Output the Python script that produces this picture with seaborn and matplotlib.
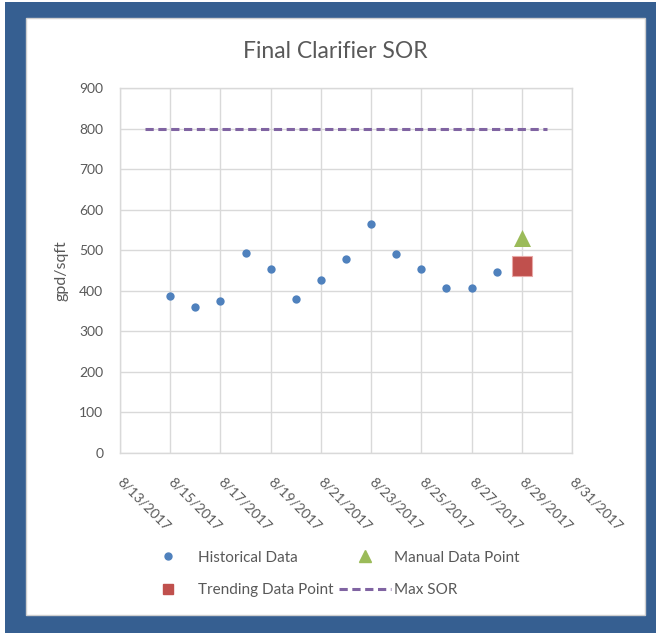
import matplotlib
matplotlib.use("Agg")
import matplotlib.pyplot as plt
import matplotlib.dates as mdates
from matplotlib.lines import Line2D
from matplotlib.patches import Rectangle
import pandas as pd
import seaborn as sns

# ---- data -------------------------------------------------------------
hist_dates = ["2017-08-15", "2017-08-16", "2017-08-17", "2017-08-18", "2017-08-19",
              "2017-08-20", "2017-08-21", "2017-08-22", "2017-08-23", "2017-08-24",
              "2017-08-25", "2017-08-26", "2017-08-27", "2017-08-28"]
hist_sor = [388, 361, 376, 493, 454, 380, 427, 478, 564, 490, 454, 407, 407, 446]

manual_dates = ["2017-08-29"]
manual_sor = [530]

trend_dates = ["2017-08-29"]
trend_sor = [460]

max_dates = ["2017-08-14", "2017-08-30"]
max_sor = [800, 800]

x_start, x_end = "2017-08-13", "2017-08-31"
y_ticks = list(range(0, 1000, 100))

# ---- style ------------------------------------------------------------
sns.set_style("white")
plt.rcParams["font.family"] = ["Lato", "DejaVu Sans"]
TXT = "#595959"
GRID = "#D9D9D9"
BLUE, GREEN, RED, PURPLE = "#4F81BD", "#9BBB59", "#C0504D", "#8064A2"
FRAME = "#365F91"

hist = pd.DataFrame({"date": pd.to_datetime(hist_dates), "sor": hist_sor})
manual = pd.DataFrame({"date": pd.to_datetime(manual_dates), "sor": manual_sor})
trend = pd.DataFrame({"date": pd.to_datetime(trend_dates), "sor": trend_sor})
limit = pd.DataFrame({"date": pd.to_datetime(max_dates), "sor": max_sor})

fig = plt.figure(figsize=(6.56, 6.33), dpi=100)

# blue frame with white chart area
fig.patches.append(Rectangle((5 / 656, 0), 651 / 656, 631 / 633, transform=fig.transFigure,
                             facecolor=FRAME, edgecolor="none", zorder=-3))
fig.patches.append(Rectangle((26 / 656, 1 - 615 / 633), 619 / 656, 597 / 633,
                             transform=fig.transFigure, facecolor="white",
                             edgecolor="#CFCFCF", linewidth=1.0, zorder=-2))

ax = fig.add_axes([120 / 656, 1 - 453 / 633, 452 / 656, 365 / 633])
ax.set_facecolor("none")

sns.lineplot(data=limit, x="date", y="sor", ax=ax, color=PURPLE, linewidth=2.2,
             zorder=3, legend=False).lines[-1].set_dashes((2.7, 1.5))
sns.scatterplot(data=hist, x="date", y="sor", ax=ax, color=BLUE, s=36, marker="o",
                edgecolor=BLUE, linewidth=0, zorder=4, legend=False)
sns.scatterplot(data=manual, x="date", y="sor", ax=ax, color=GREEN, s=150, marker="^",
                edgecolor=GREEN, linewidth=0, zorder=4, legend=False)
sns.scatterplot(data=trend, x="date", y="sor", ax=ax, color=RED, s=215, marker="s",
                edgecolor="#E8A9A7", linewidth=0.8, zorder=4, legend=False)

ax.set_xlim(pd.Timestamp(x_start), pd.Timestamp(x_end))
ax.set_ylim(0, 900)
ax.set_yticks(y_ticks)
ax.xaxis.set_major_locator(mdates.DayLocator(interval=2))
ax.xaxis.set_major_formatter(
    plt.FuncFormatter(lambda v, _: (lambda d: f"{d.month}/{d.day}/{d.year}")(mdates.num2date(v))))

ax.grid(True, color=GRID, linewidth=1.0)
ax.set_axisbelow(True)
for s in ax.spines.values():
    s.set_color(GRID)
    s.set_linewidth(1.0)

ax.tick_params(axis="both", length=0, colors=TXT, labelsize=10)
ax.tick_params(axis="y", pad=12)
ax.tick_params(axis="x", pad=19)
for lab in ax.get_xticklabels():
    lab.set_rotation(-45)
    lab.set_ha("left")
    lab.set_va("center")
    lab.set_rotation_mode("anchor")

ax.set_xlabel("")
ax.set_ylabel("gpd/sqft", color=TXT, fontsize=11.5)
ax.yaxis.set_label_coords(-0.113, 0.5)

fig.text(335 / 656, 1 - 51 / 633, "Final Clarifier SOR", ha="center", va="center",
         fontsize=16.5, color=TXT)

handles = [
    Line2D([], [], linestyle="none", marker="o", markersize=5, color=BLUE),
    Line2D([], [], linestyle="none", marker="s", markersize=7, color=RED),
    Line2D([], [], linestyle="none", marker="^", markersize=8, color=GREEN),
    Line2D([], [], color=PURPLE, linewidth=2.2, dashes=(2.7, 1.5)),
]
labels = ["Historical Data", "Trending Data Point", "Manual Data Point", "Max SOR"]
fig.legend(handles, labels, ncol=2, loc="center", bbox_to_anchor=(331 / 656, 1 - 574 / 633),
           frameon=False, fontsize=11, labelcolor=TXT, handlelength=3.4,
           handletextpad=0.25, columnspacing=0.35, labelspacing=1.2)

fig.savefig("out.png", dpi=100)
